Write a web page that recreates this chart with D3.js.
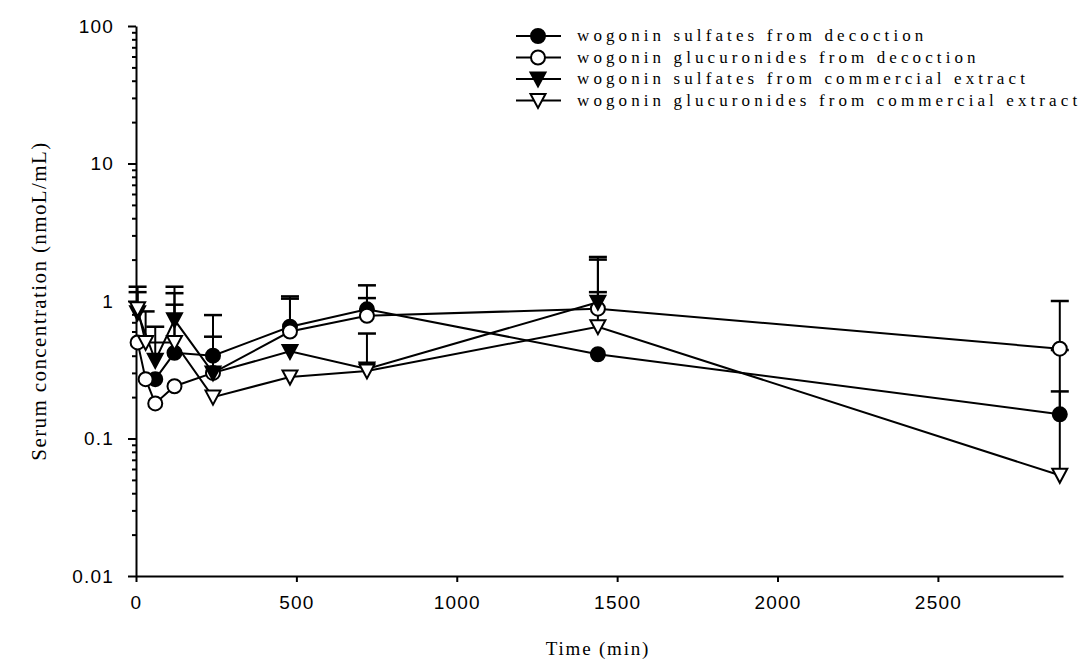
<!DOCTYPE html>
<html>
<head>
<meta charset="utf-8">
<script src="https://cdn.jsdelivr.net/npm/d3@7"></script>
<style>
  body { margin: 0; background: #fff; }
  svg { display: block; }
  .tick text { font-family: "Liberation Sans", Arial, sans-serif; font-size: 19px; letter-spacing: 1.2px; fill: #000; }
  .domain, .tick line { stroke: #000; stroke-width: 2; }
</style>
</head>
<body>
<svg id="chart" width="1081" height="671"></svg>
<script>
// 时间点 (min)
const times = [5, 15, 30, 60, 120, 240, 480, 720, 1440, 2880];

// 各组平均值 (null = 无数据)
const sulfDec = [null, null, null, 0.27, 0.42, 0.40, 0.65, 0.87, 0.41, 0.15];
const glucDec = [0.50, null, 0.27, 0.18, 0.24, 0.30, 0.60, 0.78, 0.88, 0.45];
const sulfCom = [0.82, null, null, 0.37, 0.73, 0.30, 0.43, 0.32, 0.98, null];
const glucCom = [0.88, null, 0.50, null, 0.50, 0.20, 0.28, 0.31, 0.65, 0.054];

// 误差棒上端 (mean + SD)
const sulfDecUp = [null, null, null, null, 0.94, 0.79, 1.04, 1.30, null, 0.44];
const glucDecUp = [null, null, null, null, null, 0.55, 1.08, 1.05, 2.00, 1.00];
const sulfComUp = [1.27, null, null, 0.65, 1.27, null, null, null, 2.09, null];
const glucComUp = [1.16, null, 0.84, null, 1.14, null, null, 0.58, 1.16, 0.22];

const legendLabels = [
  "wogonin sulfates from decoction",
  "wogonin glucuronides from decoction",
  "wogonin sulfates from commercial extract",
  "wogonin glucuronides from commercial extract"
];
const yTicks = [0.01, 0.1, 1, 10, 100];
const xTicks = [0, 500, 1000, 1500, 2000, 2500];

const series = [
  { vals: sulfDec, up: sulfDecUp, shape: "circle", fill: "#000" },
  { vals: glucDec, up: glucDecUp, shape: "circle", fill: "#fff" },
  { vals: sulfCom, up: sulfComUp, shape: "tri", fill: "#000" },
  { vals: glucCom, up: glucComUp, shape: "tri", fill: "#fff" }
];

const svg = d3.select("#chart");

const x = d3.scaleLinear().domain([0, 2890]).range([136, 1063]);
const y = d3.scaleLog().domain([0.01, 100]).range([576, 26]);

// 次刻度
const minor = [];
[0.01, 0.1, 1, 10].forEach(d => { for (let k = 2; k <= 9; k++) minor.push(d * k); });

svg.append("g")
  .attr("transform", "translate(136,0)")
  .call(d3.axisLeft(y).tickValues(minor).tickSize(4).tickFormat(""))
  .call(g => g.select(".domain").remove());

svg.append("g")
  .attr("transform", "translate(136,0)")
  .call(d3.axisLeft(y).tickValues(yTicks).tickSize(8).tickSizeOuter(0).tickPadding(14)
    .tickFormat(d => String(d)));

svg.append("g")
  .attr("transform", "translate(0,576)")
  .call(d3.axisBottom(x).tickValues(xTicks).tickSize(6).tickSizeOuter(0).tickPadding(14)
    .tickFormat(d => String(d)));

// 轴标题
const serif = "'Liberation Serif', 'Times New Roman', serif";
svg.append("text")
  .attr("transform", "translate(46,301) rotate(-90)")
  .attr("text-anchor", "middle")
  .style("font-family", serif)
  .style("font-size", "21px")
  .style("letter-spacing", "1.4px")
  .text("Serum concentration (nmoL/mL)");

svg.append("text")
  .attr("x", 598).attr("y", 655)
  .attr("text-anchor", "middle")
  .style("font-family", serif)
  .style("font-size", "19px")
  .style("letter-spacing", "1.8px")
  .text("Time (min)");

const triPath = "M-7.5,-6.5L7.5,-6.5L0,7.5Z";

function drawMarker(g, s) {
  if (s.shape === "circle") {
    g.append("circle").attr("r", 7)
      .attr("fill", s.fill).attr("stroke", "#000").attr("stroke-width", 2);
  } else {
    g.append("path").attr("d", triPath)
      .attr("fill", s.fill).attr("stroke", "#000").attr("stroke-width", 2)
      .attr("stroke-linejoin", "miter");
  }
}

const line = d3.line()
  .defined(d => d.v != null)
  .x(d => x(d.t))
  .y(d => y(d.v));

const plot = svg.append("g");

series.forEach(s => {
  const pts = times.map((t, i) => ({ t, v: s.vals[i], u: s.up[i] })).filter(d => d.v != null);

  // 误差棒
  pts.filter(d => d.u != null).forEach(d => {
    plot.append("line")
      .attr("x1", x(d.t)).attr("x2", x(d.t))
      .attr("y1", y(d.v)).attr("y2", y(d.u))
      .attr("stroke", "#000").attr("stroke-width", 2);
    plot.append("line")
      .attr("x1", x(d.t) - 9).attr("x2", x(d.t) + 9)
      .attr("y1", y(d.u)).attr("y2", y(d.u))
      .attr("stroke", "#000").attr("stroke-width", 2.5);
  });

  plot.append("path")
    .datum(pts)
    .attr("d", line)
    .attr("fill", "none")
    .attr("stroke", "#000")
    .attr("stroke-width", 2);
});

series.forEach(s => {
  times.forEach((t, i) => {
    if (s.vals[i] == null) return;
    const g = plot.append("g").attr("transform", `translate(${x(t)},${y(s.vals[i])})`);
    drawMarker(g, s);
  });
});

// 图例
const legend = svg.append("g");
legendLabels.forEach((lab, i) => {
  const ly = 36 + i * 21.5;
  legend.append("line")
    .attr("x1", 516).attr("x2", 561).attr("y1", ly).attr("y2", ly)
    .attr("stroke", "#000").attr("stroke-width", 2);
  const g = legend.append("g").attr("transform", `translate(538,${ly})`);
  drawMarker(g, series[i]);
  legend.append("text")
    .attr("x", 577).attr("y", ly + 5)
    .style("font-family", serif)
    .style("font-size", "17px")
    .style("letter-spacing", "4.1px")
    .text(lab);
});
</script>
</body>
</html>
